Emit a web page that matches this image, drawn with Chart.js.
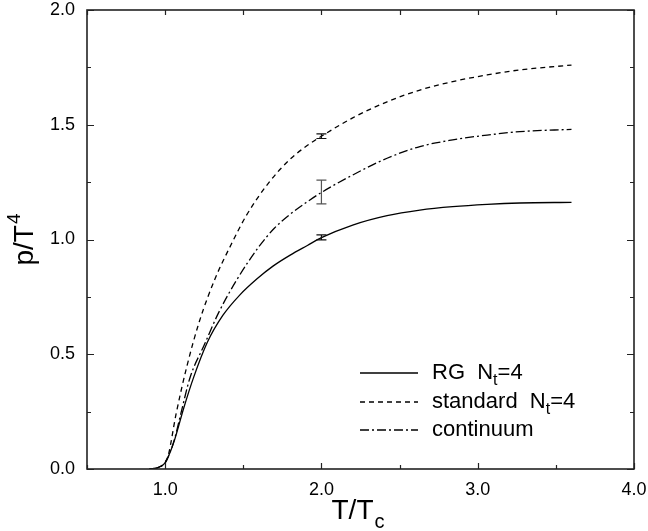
<!DOCTYPE html>
<html>
<head>
<meta charset="utf-8">
<script src="https://cdn.jsdelivr.net/npm/chart.js@4"></script>
<style>
html,body{margin:0;padding:0;background:#fff;}
#wrap{width:648px;height:531px;}
</style>
</head>
<body>
<div id="wrap"><canvas id="c" width="648" height="531"></canvas></div>
<script>
// ---- data ----
const rgX  = [0.90, 0.95, 1.00, 1.03, 1.06, 1.12, 1.18, 1.27, 1.37, 1.48, 1.59, 1.69, 1.80, 1.91, 2.00, 2.20, 2.42, 2.63, 2.84, 3.06, 3.27, 3.60];
const rgY  = [0.000, 0.005, 0.027, 0.070, 0.126, 0.268, 0.395, 0.552, 0.670, 0.760, 0.830, 0.884, 0.932, 0.974, 1.008, 1.063, 1.104, 1.128, 1.143, 1.153, 1.159, 1.162];

const stdX = [0.90, 0.95, 1.00, 1.02, 1.07, 1.14, 1.22, 1.32, 1.42, 1.52, 1.66, 1.80, 1.90, 2.00, 2.20, 2.42, 2.63, 2.84, 3.06, 3.27, 3.60];
const stdY = [0.000, 0.005, 0.030, 0.060, 0.240, 0.450, 0.645, 0.830, 0.975, 1.105, 1.245, 1.350, 1.405, 1.450, 1.530, 1.600, 1.651, 1.688, 1.717, 1.739, 1.760];

const ctX  = [0.90, 0.95, 1.00, 1.03, 1.06, 1.10, 1.16, 1.25, 1.34, 1.458, 1.596, 1.70, 1.80, 1.90, 2.00, 2.20, 2.42, 2.63, 2.84, 3.06, 3.27, 3.60];
const ctY  = [0.000, 0.005, 0.027, 0.070, 0.130, 0.240, 0.400, 0.540, 0.678, 0.824, 0.965, 1.050, 1.110, 1.160, 1.205, 1.281, 1.354, 1.405, 1.434, 1.455, 1.470, 1.480];

// error bars at T/Tc = 2.0 : [x, low, high]
const errRG  = [2.0, 0.998, 1.020];
const errStd = [2.0, 1.440, 1.460];
const errCt  = [2.0, 1.155, 1.259];

const seriesNames = ["RG", "standard", "continuum"];
const xTickValues = [0.5, 1.0, 1.5, 2.0, 2.5, 3.0, 3.5, 4.0];
const yTickValues = [0, 0.25, 0.5, 0.75, 1.0, 1.25, 1.5, 1.75, 2.0];

const FONT = "'Liberation Sans', Arial, Helvetica, sans-serif";
const DASH_STD = [5, 4];
const DASH_CT = [9, 3, 2, 3];

function pts(xs, ys){ return xs.map((x,i)=>({x:x, y:ys[i]})); }

const framePlugin = {
  id: 'frame',
  afterDatasetsDraw(chart){
    const ctx = chart.ctx;
    const {left, right, top, bottom} = chart.chartArea;
    const xs = chart.scales.x, ys = chart.scales.y;
    ctx.save();
    // error bars
    ctx.setLineDash([]);
    const drawErr = (e, color) => {
      const px = xs.getPixelForValue(e[0]);
      const y1 = ys.getPixelForValue(e[1]);
      const y2 = ys.getPixelForValue(e[2]);
      ctx.strokeStyle = color; ctx.lineWidth = 1.2;
      ctx.beginPath();
      ctx.moveTo(px, y1); ctx.lineTo(px, y2);
      ctx.moveTo(px-5, y1); ctx.lineTo(px+5, y1);
      ctx.moveTo(px-5, y2); ctx.lineTo(px+5, y2);
      ctx.stroke();
    };
    drawErr(errRG, '#111');
    drawErr(errStd, '#111');
    drawErr(errCt, '#555');

    // frame
    ctx.strokeStyle = '#222';
    ctx.lineWidth = 1.6;
    ctx.strokeRect(left, top, right-left, bottom-top);
    // inward ticks
    ctx.lineWidth = 1.2;
    ctx.beginPath();
    xTickValues.forEach(v => {
      const px = Math.round(xs.getPixelForValue(v)) + 0.5;
      const len = Number.isInteger(v) ? 6 : 4;
      ctx.moveTo(px, bottom); ctx.lineTo(px, bottom-len);
      ctx.moveTo(px, top); ctx.lineTo(px, top+5);
    });
    yTickValues.forEach(v => {
      const py = Math.round(ys.getPixelForValue(v)) + 0.5;
      const len = (Math.abs(v*2 - Math.round(v*2)) < 1e-9) ? 7 : 4;
      ctx.moveTo(left, py); ctx.lineTo(left+len, py);
      ctx.moveTo(right, py); ctx.lineTo(right-len, py);
    });
    ctx.stroke();

    // legend
    const lx0 = 360, lx1 = 418, tx = 432;
    const rows = [
      {y: 373, dash: [], name: seriesNames[0], sub: true},
      {y: 402, dash: DASH_STD, name: seriesNames[1], sub: true},
      {y: 430, dash: DASH_CT, name: seriesNames[2], sub: false}
    ];
    rows.forEach(r => {
      ctx.strokeStyle = '#000'; ctx.lineWidth = 1.3;
      ctx.setLineDash(r.dash);
      ctx.beginPath(); ctx.moveTo(lx0, r.y); ctx.lineTo(lx1, r.y); ctx.stroke();
      ctx.setLineDash([]);
      ctx.fillStyle = '#000';
      ctx.textBaseline = 'middle';
      ctx.textAlign = 'left';
      ctx.font = '22px ' + FONT;
      let x = tx;
      const main = r.name + (r.sub ? '  N' : '');
      ctx.fillText(main, x, r.y);
      x += ctx.measureText(main).width;
      if (r.sub){
        ctx.font = '16px ' + FONT;
        ctx.fillText('t', x, r.y + 8);
        x += ctx.measureText('t').width;
        ctx.font = '22px ' + FONT;
        ctx.fillText('=4', x, r.y);
      }
    });

    // axis titles
    ctx.fillStyle = '#000';
    ctx.textBaseline = 'alphabetic';
    ctx.textAlign = 'left';
    ctx.font = '28px ' + FONT;
    const xt = 'T/T';
    const wxt = ctx.measureText(xt).width;
    ctx.font = '20px ' + FONT;
    const wc = ctx.measureText('c').width;
    let sx = (left+right)/2 - (wxt+wc)/2 - 3;
    ctx.font = '28px ' + FONT;
    ctx.fillText(xt, sx, 519);
    ctx.font = '20px ' + FONT;
    ctx.fillText('c', sx + wxt + 1, 528);

    // y title rotated
    ctx.save();
    ctx.translate(33, 240);
    ctx.rotate(-Math.PI/2);
    ctx.font = '28px ' + FONT;
    const yt = 'p/T';
    const wyt = ctx.measureText(yt).width;
    ctx.font = '19px ' + FONT;
    const w4 = ctx.measureText('4').width;
    const s0 = -(wyt + w4)/2;
    ctx.font = '28px ' + FONT;
    ctx.fillText(yt, s0, 0);
    ctx.font = '19px ' + FONT;
    ctx.fillText('4', s0 + wyt + 1, -13);
    ctx.restore();

    ctx.restore();
  }
};

const baseDs = {
  showLine: true, pointRadius: 0, borderColor: '#000', borderWidth: 1.3,
  cubicInterpolationMode: 'monotone', fill: false
};

new Chart(document.getElementById('c'), {
  type: 'scatter',
  data: {
    datasets: [
      Object.assign({label: seriesNames[0], data: pts(rgX, rgY), borderDash: []}, baseDs),
      Object.assign({label: seriesNames[1], data: pts(stdX, stdY), borderDash: DASH_STD}, baseDs),
      Object.assign({label: seriesNames[2], data: pts(ctX, ctY), borderDash: DASH_CT}, baseDs)
    ]
  },
  options: {
    responsive: false,
    animation: false,
    layout: {padding: {top: 10, right: 14, left: 0, bottom: 0}},
    plugins: {legend: {display: false}, tooltip: {enabled: false}},
    scales: {
      x: {
        type: 'linear', min: 0.5, max: 4.0,
        afterFit(s){ s.height = 62; s.paddingLeft = 0; s.paddingRight = 0; },
        afterBuildTicks(s){ s.ticks = xTickValues.map(v => ({value: v})); },
        grid: {display: false, drawTicks: false},
        border: {display: false},
        ticks: {
          padding: 10, color: '#000', maxRotation: 0, autoSkip: false,
          font: {family: FONT, size: 18},
          callback: v => Number.isInteger(v) ? v.toFixed(1) : ''
        }
      },
      y: {
        type: 'linear', min: 0, max: 2.0,
        afterFit(s){ s.width = 87; s.paddingTop = 0; s.paddingBottom = 0; },
        afterBuildTicks(s){ s.ticks = yTickValues.map(v => ({value: v})); },
        grid: {display: false, drawTicks: false},
        border: {display: false},
        ticks: {
          padding: 12, color: '#000', autoSkip: false,
          font: {family: FONT, size: 18},
          callback: v => (Math.abs(v*2 - Math.round(v*2)) < 1e-9) ? v.toFixed(1) : ''
        }
      }
    }
  },
  plugins: [framePlugin]
});
</script>
</body>
</html>
